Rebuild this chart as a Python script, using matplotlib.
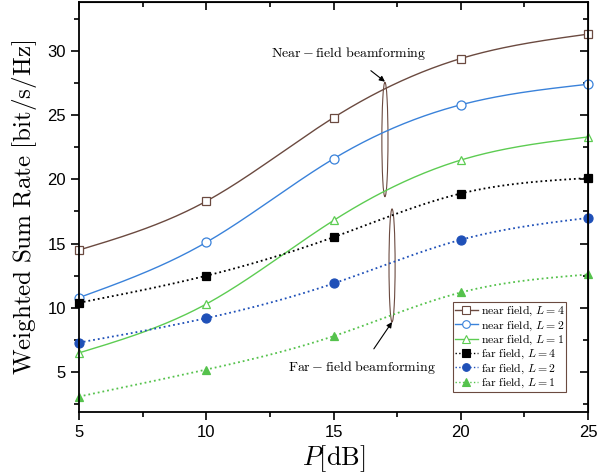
import numpy as np
import matplotlib
matplotlib.use('Agg')
from matplotlib import pyplot as plt
from matplotlib.patches import Ellipse
from matplotlib.ticker import MultipleLocator

plt.rcParams['mathtext.fontset'] = 'cm'
plt.rcParams['font.family'] = ['Liberation Sans', 'DejaVu Sans']

P = [5, 10, 15, 20, 25]
near_L4 = [14.5, 18.3, 24.8, 29.4, 31.3]
near_L2 = [10.8, 15.1, 21.6, 25.8, 27.4]
near_L1 = [6.5, 10.3, 16.8, 21.5, 23.3]
far_L4 = [10.4, 12.5, 15.5, 18.9, 20.1]
far_L2 = [7.3, 9.2, 11.9, 15.3, 17.0]
far_L1 = [3.1, 5.2, 7.8, 11.2, 12.6]


def spline(x, y, n=200):
    # natural cubic spline, only used to draw the smooth connecting line
    x = np.asarray(x, float)
    y = np.asarray(y, float)
    k = len(x)
    h = np.diff(x)
    A = np.zeros((k, k))
    b = np.zeros(k)
    A[0, 0] = A[-1, -1] = 1
    for i in range(1, k - 1):
        A[i, i - 1] = h[i - 1]
        A[i, i] = 2 * (h[i - 1] + h[i])
        A[i, i + 1] = h[i]
        b[i] = 6 * ((y[i + 1] - y[i]) / h[i] - (y[i] - y[i - 1]) / h[i - 1])
    M = np.linalg.solve(A, b)
    xs = np.linspace(x[0], x[-1], n)
    idx = np.clip(np.searchsorted(x, xs) - 1, 0, k - 2)
    x0, x1 = x[idx], x[idx + 1]
    hh = x1 - x0
    t0, t1 = x1 - xs, xs - x0
    ys = (M[idx] * t0**3 + M[idx + 1] * t1**3) / (6 * hh) \
        + (y[idx] / hh - M[idx] * hh / 6) * t0 + (y[idx + 1] / hh - M[idx + 1] * hh / 6) * t1
    return xs, ys


series = [
    (near_L4, '#6b4a40', '-', 's', 'none', r'$\mathrm{near\ field,}\,L=4$'),
    (near_L2, '#3a82da', '-', 'o', 'none', r'$\mathrm{near\ field,}\,L=2$'),
    (near_L1, '#5dcc52', '-', '^', 'none', r'$\mathrm{near\ field,}\,L=1$'),
    (far_L4, '#000000', ':', 's', 'full', r'$\mathrm{far\ field,}\,L=4$'),
    (far_L2, '#1f50b8', ':', 'o', 'full', r'$\mathrm{far\ field,}\,L=2$'),
    (far_L1, '#55c24c', ':', '^', 'full', r'$\mathrm{far\ field,}\,L=1$'),
]

fig = plt.figure(figsize=(6.11, 4.74), dpi=100)
ax = fig.add_axes([0.1293, 0.1308, 0.8331, 0.865])

for y, c, ls, m, fill, lab in series:
    xs, ys = spline(P, y)
    ax.plot(xs, ys, color=c, ls=ls, lw=1.0 if ls == '-' else 1.3)
    mfc = 'white' if fill == 'none' else c
    ax.plot(P, y, ls='none', marker=m, ms=6 if m != 'o' else 6.5, mfc=mfc, mec=c, mew=0.9, clip_on=False)
    ax.plot([], [], color=c, ls=ls, lw=1.0, marker=m, ms=5.5, mfc=mfc, mec=c, mew=0.8, label=lab)

ax.set_xlim(5, 25)
ax.set_ylim(1.9, 33.8)
ax.xaxis.set_major_locator(MultipleLocator(5))
ax.xaxis.set_minor_locator(MultipleLocator(2.5))
ax.yaxis.set_major_locator(MultipleLocator(5))
ax.yaxis.set_minor_locator(MultipleLocator(2.5))
ax.tick_params(which='both', direction='out', top=False, right=False, labelsize=12, width=1.2)
ax.tick_params(which='major', length=6)
ax.tick_params(which='minor', length=3.5)
for s in ax.spines.values():
    s.set_linewidth(1.3)

# mirrored inward ticks on top and right
sec = ax.secondary_xaxis('top')
sec.xaxis.set_major_locator(MultipleLocator(5))
sec.xaxis.set_minor_locator(MultipleLocator(2.5))
sec.tick_params(which='both', direction='in', labeltop=False, width=1.2)
sec.tick_params(which='major', length=6)
sec.tick_params(which='minor', length=3.5)
secy = ax.secondary_yaxis('right')
secy.yaxis.set_major_locator(MultipleLocator(5))
secy.yaxis.set_minor_locator(MultipleLocator(2.5))
secy.tick_params(which='both', direction='in', labelright=False, width=1.2)
secy.tick_params(which='major', length=6)
secy.tick_params(which='minor', length=3.5)

ax.set_xlabel(r'$P[\mathrm{dB}]$', fontsize=19, labelpad=2)
ax.set_ylabel(r'$\mathrm{Weighted\ Sum\ Rate\ [bit/s/Hz]}$', fontsize=18, labelpad=6)

ax.add_patch(Ellipse((17.02, 23.1), 0.24, 8.9, fill=False, ec='#6b4a40', lw=0.8))
ax.add_patch(Ellipse((17.3, 13.3), 0.24, 8.8, fill=False, ec='#6b4a40', lw=0.8))
ax.annotate(r'$\mathrm{Near}-\mathrm{field\ beamforming}$', xy=(17.02, 27.6), xytext=(15.6, 29.8),
            ha='center', va='center', fontsize=10,
            arrowprops=dict(arrowstyle='-|>', color='black', lw=0.8, mutation_scale=8, shrinkA=7, shrinkB=0))
ax.annotate(r'$\mathrm{Far}-\mathrm{field\ beamforming}$', xy=(17.3, 8.9), xytext=(16.1, 5.4),
            ha='center', va='center', fontsize=10,
            arrowprops=dict(arrowstyle='-|>', color='black', lw=0.8, mutation_scale=8, shrinkA=6, shrinkB=0))

leg = ax.legend(loc='lower right', bbox_to_anchor=(0.957, 0.049), fontsize=8.5, frameon=True, fancybox=False,
                edgecolor='#6b4a40', framealpha=1, borderpad=0.15, labelspacing=0.0,
                handlelength=2.0, handletextpad=0.2, borderaxespad=0)
leg.get_frame().set_linewidth(0.8)

fig.savefig('out.png', dpi=100)
